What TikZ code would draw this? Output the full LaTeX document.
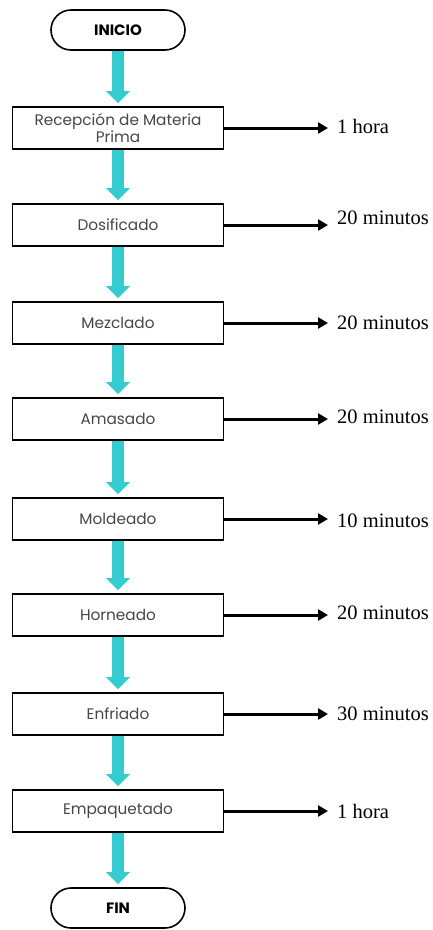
\documentclass[tikz,border=0pt]{standalone}
\usepackage{fontspec}
\setmainfont{Liberation Serif}
\newfontfamily\boxfont{Poppins}
\usetikzlibrary{arrows.meta,shapes.misc}
\definecolor{flowcyan}{RGB}{52,204,208}
\definecolor{boxtext}{RGB}{70,70,70}
\tikzset{
  x=1pt, y=-1pt,
  stepbox/.style={draw=black, line width=1.6pt, minimum width=211pt, minimum height=42pt,
    inner sep=0pt, align=center, font=\boxfont\fontsize{15.3}{18}\selectfont, text=boxtext},
  terminal/.style={draw=black, line width=1.6pt, rounded rectangle, minimum width=134pt,
    minimum height=40pt, inner sep=0pt, font=\boxfont\bfseries\fontsize{15}{18}\selectfont},
  flow/.style={draw=flowcyan, line width=11.5pt,
    -{Triangle[width=23pt 0 0, length=12pt 0 0, fill=flowcyan]}, shorten >=3pt},
  timearrow/.style={draw=black, line width=3pt,
    -{Triangle[width=11pt 0 0, length=10pt 0 0]}, shorten >=9pt},
  timelabel/.style={anchor=west, inner sep=0pt, font=\fontsize{20.5}{24}\selectfont}
}
\begin{document}
\begin{tikzpicture}
\useasboundingbox (0,0) rectangle (432,930);
% start and end terminals
\node[terminal] (ini) at (118,30) {INICIO};
\node[terminal] (fin) at (118,908) {FIN};
% process steps
\node[stepbox] (b1) at (118,128) {Recepción de Materia\\[-1pt]Prima};
\node[stepbox] (b2) at (118,225) {Dosificado};
\node[stepbox] (b3) at (118,323) {Mezclado};
\node[stepbox] (b4) at (118,419) {Amasado};
\node[stepbox] (b5) at (118,519) {Moldeado};
\node[stepbox] (b6) at (118,615) {Horneado};
\node[stepbox] (b7) at (118,714) {Enfriado};
\node[stepbox] (b8) at (118,811) {Empaquetado};
% durations
\node[timelabel] (t1) at (337,126) {1 hora};
\node[timelabel] (t2) at (337,218) {20 minutos};
\node[timelabel] (t3) at (337,323) {20 minutos};
\node[timelabel] (t4) at (337,417) {20 minutos};
\node[timelabel] (t5) at (337,521) {10 minutos};
\node[timelabel] (t6) at (337,613) {20 minutos};
\node[timelabel] (t7) at (337,714) {30 minutos};
\node[timelabel] (t8) at (337,811) {1 hora};
% main flow
\draw[flow] (ini.south) -- (b1.north);
\foreach \a/\b in {b1/b2,b2/b3,b3/b4,b4/b5,b5/b6,b6/b7,b7/b8,b8/fin}
  \draw[flow] (\a.south) -- (\b.north);
% time arrows
\foreach \i in {1,...,8}
  \draw[timearrow] (b\i.east) -- (b\i.east -| t\i.west);
\end{tikzpicture}
\end{document}
